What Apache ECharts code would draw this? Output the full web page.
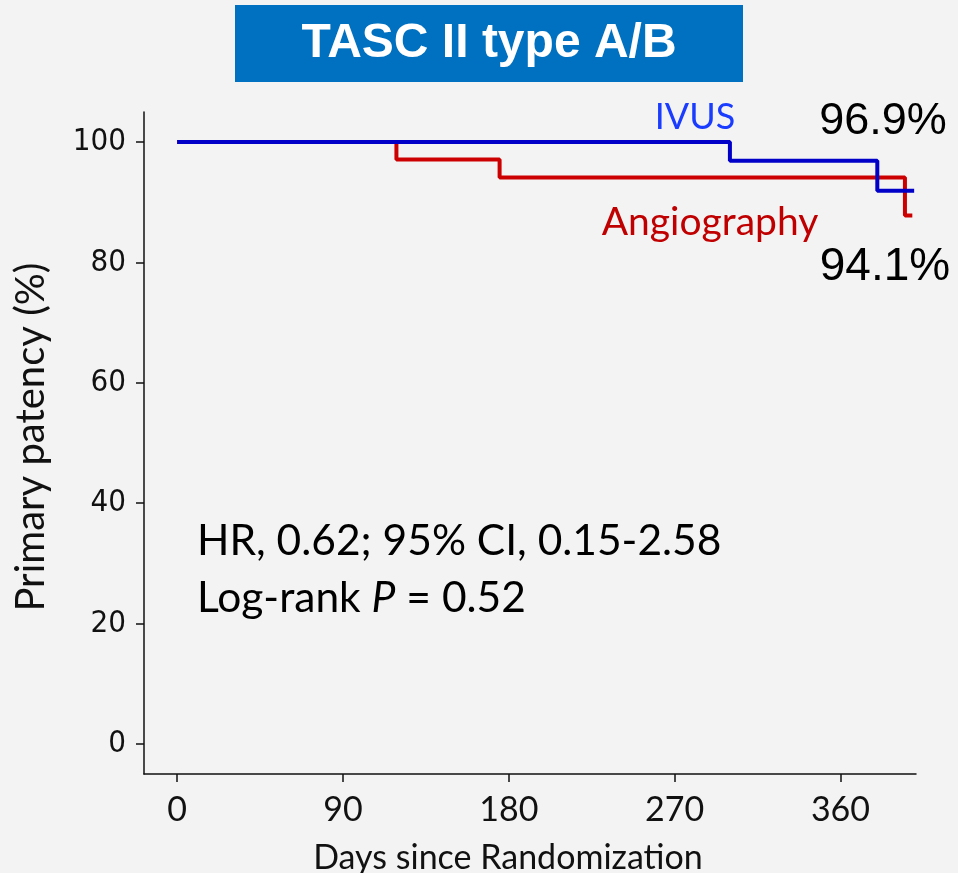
<!DOCTYPE html>
<html>
<head>
<meta charset="utf-8">
<script src="https://cdn.jsdelivr.net/npm/echarts@6/dist/echarts.min.js"></script>
<style>
  html, body { margin: 0; padding: 0; background: #f3f3f4; }
  #chart { width: 958px; height: 873px; }
</style>
</head>
<body>
<div id="chart"></div>
<script>
  // Kaplan-Meier steps (days, % patent)
  const ivusDays = [0, 300, 380, 400]
  const ivusPatency = [100, 96.9, 91.9, 91.9]
  const angioDays = [0, 119, 175, 395, 399]
  const angioPatency = [100, 97.1, 94.1, 87.8, 87.8]

  const xTicks = [0, 90, 180, 270, 360]
  const yTicks = [0, 20, 40, 60, 80, 100]

  const toPairs = (xs, ys) => xs.map((x, i) => [x, ys[i]])

  const chart = echarts.init(document.getElementById('chart'))

  const calibriLike = 'Lato, "Open Sans", sans-serif'

  chart.setOption({
    backgroundColor: '#f3f3f4',
    animation: false,
    grid: { left: 144, right: 42, top: 112, bottom: 99, outerBoundsMode: 'none', containLabel: false },
    xAxis: {
      type: 'value',
      min: -18,
      max: 401,
      name: 'Days since Randomization',
      nameLocation: 'middle',
      nameGap: 67,
      nameTextStyle: { fontFamily: calibriLike, fontSize: 34, color: '#111', padding: [0, 44, 0, 0] },
      axisLine: { show: true, onZero: false, lineStyle: { color: '#111', width: 1.5 } },
      axisTick: { show: true, length: 8, customValues: xTicks, lineStyle: { color: '#111', width: 1.5 } },
      axisLabel: { customValues: xTicks, margin: 19, fontFamily: calibriLike, fontSize: 34, color: '#111' },
      splitLine: { show: false }
    },
    yAxis: {
      type: 'value',
      min: -5,
      max: 105,
      name: 'Primary patency (%)',
      nameLocation: 'middle',
      nameGap: 93,
      nameTextStyle: { fontFamily: calibriLike, fontSize: 40, color: '#111', padding: [0, 0, 0, 12] },
      axisLine: { show: true, onZero: false, lineStyle: { color: '#111', width: 1.5 } },
      axisTick: { show: true, length: 8, customValues: yTicks, lineStyle: { color: '#111', width: 1.5 } },
      axisLabel: {
        customValues: yTicks, margin: 18, color: '#111', fontSize: 31,
        fontFamily: '"DejaVu Sans Condensed", "DejaVu Sans", sans-serif'
      },
      splitLine: { show: false }
    },
    series: [
      {
        name: 'Angiography',
        type: 'line',
        step: 'end',
        symbol: 'none',
        lineStyle: { color: '#cc0000', width: 4 },
        data: toPairs(angioDays, angioPatency)
      },
      {
        name: 'IVUS',
        type: 'line',
        step: 'end',
        symbol: 'none',
        lineStyle: { color: '#0000c8', width: 4 },
        data: toPairs(ivusDays, ivusPatency)
      }
    ],
    graphic: [
      {
        type: 'rect',
        shape: { x: 235, y: 5, width: 508, height: 77 },
        style: { fill: '#0070c0' }
      },
      {
        type: 'text',
        x: 489, y: 44,
        style: {
          text: 'TASC II type A/B', fill: '#fff', align: 'center', verticalAlign: 'middle',
          font: 'bold 48px "Liberation Sans", Arial, sans-serif'
        }
      },
      {
        type: 'text', x: 695, y: 117,
        style: { text: 'IVUS', fill: '#1a3cff', align: 'center', verticalAlign: 'middle', font: '36px ' + calibriLike }
      },
      {
        type: 'text', x: 710, y: 222,
        style: { text: 'Angiography', fill: '#c00000', align: 'center', verticalAlign: 'middle', font: '39px ' + calibriLike }
      },
      {
        type: 'text', x: 883, y: 122,
        style: { text: '96.9%', fill: '#000', align: 'center', verticalAlign: 'middle', font: '45px "Liberation Sans", Arial, sans-serif' }
      },
      {
        type: 'text', x: 885, y: 267,
        style: { text: '94.1%', fill: '#000', align: 'center', verticalAlign: 'middle', font: '46px "Liberation Sans", Arial, sans-serif' }
      },
      {
        type: 'text', x: 197, y: 541,
        style: {
          text: 'HR, 0.62; 95% CI, 0.15-2.58', fill: '#000', align: 'left', verticalAlign: 'middle',
          font: '42.5px ' + calibriLike
        }
      },
      {
        type: 'text', x: 197, y: 598,
        style: {
          text: '{n|Log-rank }{i|P}{n| = 0.52}', fill: '#000', align: 'left', verticalAlign: 'middle',
          rich: {
            n: { fontFamily: calibriLike, fontSize: 42.5, fill: '#000' },
            i: { fontFamily: calibriLike, fontSize: 42.5, fontStyle: 'italic', fill: '#000' }
          }
        }
      }
    ]
  })
</script>
</body>
</html>
